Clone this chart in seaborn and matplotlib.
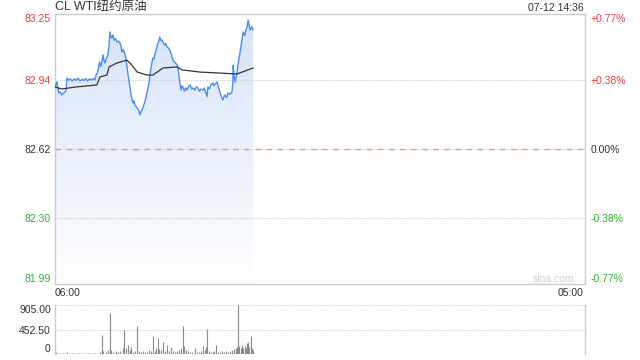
import numpy as np
import matplotlib
matplotlib.use('Agg')
import matplotlib.pyplot as plt
import seaborn as sns
from matplotlib.colors import LinearSegmentedColormap
from matplotlib.patches import PathPatch

# ---- data (minutes since 06:00) ----
price_min = [0, 3, 5, 8, 10, 14, 18, 22, 26, 29, 31, 35, 40, 45, 50, 55, 60, 65, 70, 75, 80, 85, 90,
             95, 100, 104, 107, 110, 113, 116, 119, 122, 125, 128, 130, 134, 138, 141, 143, 146, 148,
             151, 154, 158, 161, 165, 169, 172, 174, 177, 180, 184, 187, 190, 193, 196, 198, 201, 203,
             206, 208, 211, 214, 218, 221, 224, 227, 230, 234, 238, 242, 245, 247, 251, 255, 258, 260,
             263, 266, 270, 273, 276, 279, 281, 285, 288, 292, 296, 299, 303, 307, 312, 318, 321, 323,
             326, 328, 331, 333, 337, 340, 344, 348, 352, 356, 359, 364, 368, 372, 376, 380, 385, 389,
             393, 396, 398, 402, 406, 411, 414, 418, 422, 426, 430, 434, 437, 440, 443, 447, 450, 455,
             461, 463, 464, 466, 469, 472, 474, 478, 482, 486, 490, 494, 497, 500, 503, 505, 508, 512, 516]
price_val = [82.905, 82.925, 82.933, 82.905, 82.881, 82.886, 82.872, 82.881, 82.886, 82.895, 82.951,
             82.942, 82.947, 82.937, 82.947, 82.940, 82.951, 82.937, 82.945, 82.940, 82.949, 82.937,
             82.947, 82.942, 82.949, 82.942, 82.965, 82.975, 82.995, 83.026, 83.005, 83.026, 83.059,
             83.030, 83.021, 83.045, 83.059, 83.110, 83.166, 83.140, 83.138, 83.152, 83.128, 83.135,
             83.119, 83.124, 83.115, 83.100, 83.073, 83.085, 83.073, 83.050, 83.012, 82.970, 82.933,
             82.900, 82.872, 82.850, 82.835, 82.845, 82.825, 82.818, 82.811, 82.800, 82.779, 82.795,
             82.802, 82.820, 82.839, 82.870, 82.905, 82.930, 82.965, 83.010, 83.045, 83.040, 83.059,
             83.080, 83.105, 83.120, 83.143, 83.125, 83.129, 83.119, 83.105, 83.112, 83.096, 83.090,
             83.082, 83.060, 83.035, 83.025, 83.012, 82.990, 82.956, 82.920, 82.895, 82.915, 82.909,
             82.890, 82.905, 82.895, 82.912, 82.919, 82.900, 82.905, 82.895, 82.910, 82.905, 82.890,
             82.900, 82.895, 82.905, 82.881, 82.865, 82.909, 82.900, 82.920, 82.928, 82.915, 82.925,
             82.933, 82.905, 82.881, 82.860, 82.849, 82.865, 82.872, 82.860, 82.881, 82.875, 82.886,
             82.930, 83.012, 82.960, 82.933, 82.960, 82.979, 83.030, 83.073, 83.120, 83.166, 83.150,
             83.175, 83.189, 83.222, 83.200, 83.175, 83.190, 83.175]
avg_min = [0, 18, 52, 109, 117, 135, 141, 161, 187, 200, 214, 240, 255, 281, 318, 331, 378, 422, 474, 487, 516]
avg_val = [82.909, 82.900, 82.909, 82.919, 82.956, 82.965, 83.003, 83.021, 83.035, 83.012, 82.979,
           82.965, 82.965, 82.998, 83.003, 82.989, 82.979, 82.975, 82.970, 82.979, 82.998]
vol_min = [0, 3, 8, 14, 20, 26, 32, 38, 44, 50, 56, 62, 68, 74, 80, 86, 92, 98, 104, 110, 116, 122, 126,
           132, 138, 143, 147, 152, 158, 164, 170, 176, 180, 184, 190, 194, 199, 204, 209, 214, 219, 224,
           230, 235, 240, 245, 250, 255, 260, 264, 268, 272, 277, 281, 286, 292, 297, 302, 307, 312, 318,
           323, 328, 333, 337, 341, 346, 352, 358, 365, 370, 376, 381, 385, 390, 394, 396, 401, 406, 411,
           415, 419, 424, 430, 436, 441, 446, 451, 456, 461, 466, 470, 473, 477, 480, 484, 487, 490, 494,
           497, 500, 503, 506, 510, 513, 516]
vol_val = [110, 40, 20, 15, 25, 18, 30, 15, 20, 18, 15, 22, 16, 20, 15, 18, 14, 20, 16, 25, 30, 350, 60,
           40, 80, 760, 70, 45, 60, 30, 50, 110, 445, 120, 165, 80, 130, 40, 60, 520, 50, 40, 60, 30, 45,
           70, 60, 330, 50, 110, 295, 90, 70, 220, 60, 165, 60, 130, 50, 40, 60, 70, 110, 520, 150, 80, 60,
           40, 30, 110, 40, 30, 60, 150, 80, 130, 460, 60, 40, 30, 60, 165, 40, 30, 50, 40, 60, 30, 50, 70,
           90, 110, 130, 905, 150, 120, 160, 110, 140, 120, 200, 220, 130, 330, 120, 80]

y_ticks = [81.99, 82.30, 82.62, 82.94, 83.25]
y_labels = ['81.99', '82.30', '82.62', '82.94', '83.25']
pct_labels = ['-0.77%', '-0.38%', '0.00%', '+0.38%', '+0.77%']
vol_ticks = [0, 452.5, 905]
vol_labels = ['0', '452.50', '905.00']
x_labels = ['06:00', '05:00']
title = 'CL WTI纽约原油'
stamp = '07-12 14:36'

RED = '#f03a3a'
GREEN = '#2cb32c'
DARK = '#333333'
label_colors = [GREEN, GREEN, DARK, RED, RED]

sns.set_theme(style='white')
plt.rcParams['font.family'] = ['Liberation Sans', 'Noto Sans CJK SC']

W, H = 640, 360
fig = plt.figure(figsize=(6.4, 3.6), dpi=100)
ax = fig.add_axes([55 / W, 1 - 284 / H, 530 / W, 270 / H])
axv = fig.add_axes([55 / W, 1 - 354 / H, 530 / W, 49 / H])

ymin, ymax = y_ticks[0], y_ticks[-1]
XMAX = 1380

# gradient fill under price
grad = np.linspace(0, 1, 256).reshape(-1, 1)
cmap = LinearSegmentedColormap.from_list('g', ['#ffffff', '#d5e3f8'])
im = ax.imshow(grad, aspect='auto', cmap=cmap, origin='lower',
               extent=[0, price_min[-1], ymin, ymax], zorder=1)
poly = ax.fill_between(price_min, price_val, ymin, color='none', lw=0)
patch = PathPatch(poly.get_paths()[0], transform=ax.transData, facecolor='none', edgecolor='none')
ax.add_patch(patch)
im.set_clip_path(patch)

# grid lines
for v in [82.30, 82.94]:
    ax.axhline(v, color='#d0d0d0', ls=(0, (1, 1)), lw=0.8, zorder=2)
ax.axhline(82.62, color='#d0d0d0', ls=(0, (1, 1)), lw=0.8, zorder=2)
ax.axhline(82.62, color='#f39a66', ls=(0, (4, 4)), lw=1.0, zorder=3)

sns.lineplot(x=price_min, y=price_val, ax=ax, color='#4a8cf0', lw=1.0, zorder=4)
sns.lineplot(x=avg_min, y=avg_val, ax=ax, color='#333333', lw=0.9, zorder=5)

ax.set_xlim(0, XMAX)
ax.set_ylim(ymin, ymax)
ax.set_xticks([])
ax.set_yticks(y_ticks)
ax.set_yticklabels(y_labels)
ax.tick_params(axis='y', length=0, pad=3, labelsize=7.5)
tl = ax.get_yticklabels()
for t, c in zip(tl, label_colors):
    t.set_color(c)
tl[0].set_va('bottom')
tl[-1].set_va('top')
for s in ax.spines.values():
    s.set_color('#cccccc')
    s.set_linewidth(1)

axr = ax.twinx()
axr.set_ylim(ymin, ymax)
axr.set_yticks(y_ticks)
axr.set_yticklabels(pct_labels)
axr.tick_params(axis='y', length=0, pad=4, labelsize=7.5)
tr = axr.get_yticklabels()
for t, c in zip(tr, label_colors):
    t.set_color(c)
tr[0].set_va('bottom')
tr[-1].set_va('top')
for s in axr.spines.values():
    s.set_visible(False)
axr.grid(False)

# volume
axv.vlines(vol_min, 0, vol_val, color='#8a8a8a', lw=0.8)
for v in vol_ticks:
    axv.axhline(v, color='#d0d0d0', ls=(0, (1, 1)), lw=0.8, zorder=0)
axv.set_xlim(0, XMAX)
axv.set_ylim(0, 905)
axv.set_xticks([])
axv.set_yticks(vol_ticks)
axv.set_yticklabels(vol_labels)
axv.tick_params(axis='y', length=0, pad=3, labelsize=7.5, labelcolor=DARK)
vl = axv.get_yticklabels()
vl[0].set_va('bottom')
vl[-1].set_va('top')
axv.spines['top'].set_visible(False)
axv.spines['bottom'].set_visible(False)
for k in ['left', 'right']:
    axv.spines[k].set_color('#cccccc')
    axv.spines[k].set_linewidth(1)
axv.grid(False)
ax.grid(False)

# texts
fig.text(55 / W, 1 - 7 / H, title, ha='left', va='center', fontsize=9, color=DARK)
fig.text(584 / W, 1 - 8 / H, stamp, ha='right', va='center', fontsize=7.5, color=DARK)
fig.text(55 / W, 1 - 293 / H, x_labels[0], ha='left', va='center', fontsize=7.5, color=DARK)
fig.text(584 / W, 1 - 293 / H, x_labels[1], ha='right', va='center', fontsize=7.5, color=DARK)
fig.text(553 / W, 1 - 279 / H, 'sina.com', ha='center', va='center', fontsize=7.5, color='#cfcfcf')

fig.savefig('out.png', dpi=100)
